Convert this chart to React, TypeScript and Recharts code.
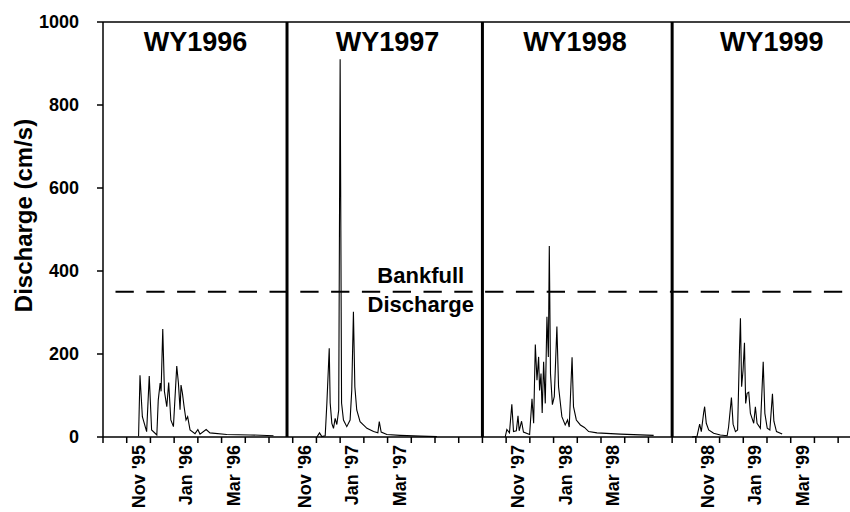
import React from 'react';
import { LineChart, Line, XAxis, YAxis, ReferenceLine, ReferenceDot } from 'recharts';

// Months since Oct 1 of each water year, and discharge (cm/s)
const wy1996T = [1.50, 1.56, 1.66, 1.84, 1.95, 2.05, 2.27, 2.33, 2.41, 2.45, 2.52, 2.59, 2.69, 2.77, 2.86, 2.97, 3.11, 3.18, 3.25, 3.29, 3.35, 3.42, 3.50, 3.57, 3.67, 3.88, 4.00, 4.09, 4.35, 4.51, 5.22, 6.20, 7.19];
const wy1996Q = [2, 149, 49, 13, 147, 17, 5, 89, 130, 110, 260, 110, 73, 131, 41, 25, 171, 130, 66, 125, 105, 73, 41, 49, 17, 8, 18, 7, 18, 10, 6, 5, 3];

const wy1997T = [2.02, 2.13, 2.23, 2.37, 2.44, 2.54, 2.58, 2.65, 2.72, 2.79, 2.86, 2.94, 3.00, 3.06, 3.14, 3.28, 3.42, 3.49, 3.56, 3.62, 3.70, 3.84, 4.13, 4.41, 4.59, 4.65, 4.73, 4.97, 5.53, 6.38, 7.08];
const wy1997Q = [0, 10, 1, 3, 81, 214, 82, 33, 21, 45, 30, 65, 910, 82, 41, 25, 41, 113, 302, 121, 65, 37, 21, 13, 10, 37, 12, 6, 4, 2, 1];

const wy1998T = [0.96, 1.03, 1.14, 1.24, 1.31, 1.43, 1.50, 1.55, 1.65, 1.73, 1.99, 2.09, 2.16, 2.23, 2.30, 2.37, 2.41, 2.47, 2.52, 2.58, 2.65, 2.72, 2.78, 2.82, 2.87, 2.95, 3.03, 3.14, 3.21, 3.35, 3.49, 3.59, 3.66, 3.78, 3.84, 3.96, 4.13, 4.30, 4.48, 4.83, 5.81, 7.22];
const wy1998Q = [0, 18, 10, 79, 13, 15, 51, 15, 38, 12, 6, 92, 33, 223, 137, 193, 112, 153, 58, 181, 81, 290, 193, 460, 153, 78, 97, 266, 121, 49, 29, 41, 24, 192, 73, 41, 29, 23, 13, 10, 7, 4];

const wy1999T = [0.84, 1.05, 1.16, 1.23, 1.33, 1.37, 1.44, 1.54, 1.75, 2.03, 2.32, 2.38, 2.50, 2.57, 2.67, 2.76, 2.84, 2.88, 2.93, 2.99, 3.05, 3.10, 3.16, 3.23, 3.30, 3.37, 3.44, 3.51, 3.58, 3.72, 3.84, 3.91, 4.01, 4.12, 4.23, 4.29, 4.40, 4.64];
const wy1999Q = [0, 2, 31, 13, 59, 73, 33, 17, 9, 5, 3, 24, 95, 31, 13, 17, 210, 286, 121, 161, 227, 81, 105, 108, 57, 45, 33, 73, 33, 21, 181, 57, 21, 17, 104, 38, 13, 7];

// Panel layout on the shared month axis
const panelOffsets = [0, 7, 16, 24];
const panelTitles = ['WY1996', 'WY1997', 'WY1998', 'WY1999'];
const titleAnchorX = [3.9, 12.0, 19.9, 28.2];
const separators = [7.76, 16, 24];

const monthTicks = Array.from({ length: 32 }, (_, i) => i);
const tickLabelPos = [1.5, 3.5, 5.5, 8.5, 10.5, 12.5, 17.5, 19.5, 21.5, 25.5, 27.5, 29.5];
const tickLabels = ["Nov '95", "Jan '96", "Mar '96", "Nov '96", "Jan '97", "Mar '97", "Nov '97", "Jan '98", "Mar '98", "Nov '98", "Jan '99", "Mar '99"];
const yTicks = [0, 200, 400, 600, 800, 1000];
const bankfull = 350;
const bankfullLabelX = 13.4;

const FONT = '"Liberation Sans", Arial, sans-serif';

const build = (t: number[], q: number[], off: number) => t.map((v, i) => ({ x: off + v, y: q[i] }));
const series = [
  build(wy1996T, wy1996Q, panelOffsets[0]),
  build(wy1997T, wy1997Q, panelOffsets[1]),
  build(wy1998T, wy1998Q, panelOffsets[2]),
  build(wy1999T, wy1999Q, panelOffsets[3]),
];

const XTick = (props: any) => {
  const { x, y, payload } = props;
  const v = payload.value;
  const idx = tickLabelPos.indexOf(v);
  if (idx < 0) {
    return <line x1={x} y1={y} x2={x} y2={y + 6} stroke="#000" strokeWidth={1.5} />;
  }
  const ty = y + 8;
  return (
    <text
      x={x}
      y={ty}
      transform={`rotate(-90, ${x}, ${ty})`}
      textAnchor="end"
      dy="0.35em"
      fontFamily={FONT}
      fontWeight="bold"
      fontSize={18}
      fill="#000"
    >
      {tickLabels[idx]}
    </text>
  );
};

const YLabel = (props: any) => {
  const vb = props.viewBox || {};
  const cx = (vb.x ?? 0) + 24;
  const cy = (vb.y ?? 0) + (vb.height ?? 0) / 2 - 14;
  return (
    <text
      x={cx}
      y={cy}
      transform={`rotate(-90, ${cx}, ${cy})`}
      textAnchor="middle"
      dy="0.35em"
      fontFamily={FONT}
      fontWeight="bold"
      fontSize={24}
      fill="#000"
    >
      Discharge (cm/s)
    </text>
  );
};

const TitleLabel = (text: string) => (props: any) => {
  const vb = props.viewBox || {};
  return (
    <text x={vb.x} y={vb.y} textAnchor="middle" fontFamily={FONT} fontWeight="bold" fontSize={27} fill="#000">
      {text}
    </text>
  );
};

const BankfullLabel = (props: any) => {
  const vb = props.viewBox || {};
  return (
    <g>
      <text x={vb.x} y={vb.y - 9} textAnchor="middle" fontFamily={FONT} fontWeight="bold" fontSize={22} fill="#000">
        Bankfull
      </text>
      <text x={vb.x} y={vb.y + 20} textAnchor="middle" fontFamily={FONT} fontWeight="bold" fontSize={22} fill="#000">
        Discharge
      </text>
    </g>
  );
};

export default function App() {
  return (
    <div style={{ position: 'absolute', left: 0, top: 0, width: 850, height: 512, background: '#fff' }}>
      <LineChart width={850} height={512} margin={{ top: 22, right: 0, bottom: 0, left: 0 }}>
        <XAxis
          type="number"
          dataKey="x"
          domain={[0, 31.5]}
          allowDataOverflow
          ticks={[...monthTicks, ...tickLabelPos]}
          interval={0}
          tickLine={false}
          tickSize={0}
          tickMargin={0}
          tick={<XTick />}
          height={75}
          axisLine={{ stroke: '#000', strokeWidth: 1.5 }}
        />
        <YAxis
          type="number"
          domain={[0, 1000]}
          ticks={yTicks}
          interval={0}
          width={103}
          tickSize={6}
          tickMargin={18}
          tickLine={{ stroke: '#000', strokeWidth: 1.5 }}
          axisLine={{ stroke: '#000', strokeWidth: 1.5 }}
          tick={{ fill: '#000', fontFamily: FONT, fontWeight: 'bold', fontSize: 18 }}
          label={<YLabel />}
        />
        <ReferenceLine y={1000} stroke="#000" strokeWidth={1.5} />
        <ReferenceLine
          y={bankfull}
          stroke="#000"
          strokeWidth={2}
          strokeDasharray="18.3 12.5"
          strokeDashoffset={18.3}
        />
        {separators.map((s) => (
          <ReferenceLine key={s} x={s} stroke="#000" strokeWidth={3} />
        ))}
        {series.map((d, i) => (
          <Line
            key={i}
            data={d}
            dataKey="y"
            type="linear"
            stroke="#000"
            strokeWidth={1.1}
            dot={false}
            isAnimationActive={false}
          />
        ))}
        {panelTitles.map((t, i) => (
          <ReferenceDot key={t} x={titleAnchorX[i]} y={930} r={0} fill="none" stroke="none" label={TitleLabel(t)} />
        ))}
        <ReferenceDot x={bankfullLabelX} y={bankfull} r={0} fill="none" stroke="none" label={BankfullLabel} />
      </LineChart>
    </div>
  );
}
